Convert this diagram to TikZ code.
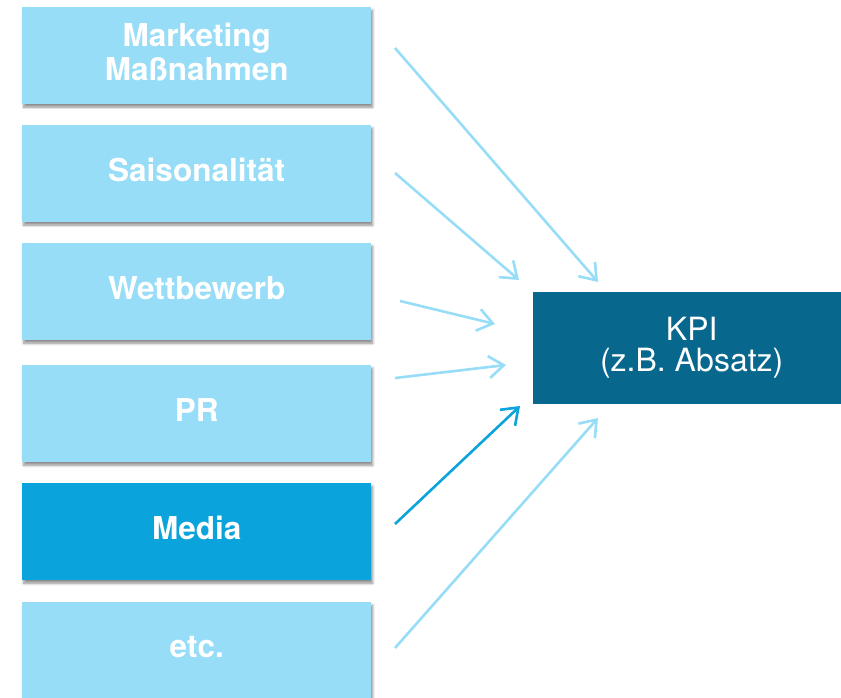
\documentclass[tikz,border=0pt]{standalone}
\usepackage{fontspec}
\setmainfont{TeX Gyre Heros}
\usetikzlibrary{arrows.meta,shadows.blur}

\definecolor{lightblue}{HTML}{97DDF7}
\definecolor{mediablue}{HTML}{0BA3DC}
\definecolor{kpiblue}{HTML}{07678D}

\tikzset{
  factor/.style={
    fill=lightblue, draw=none, anchor=north west,
    minimum width=349pt, minimum height=97pt, inner sep=0pt,
    align=center, text=white, text depth=7pt,
    font=\fontsize{31.5}{34}\selectfont\bfseries,
    blur shadow={shadow xshift=1.5pt, shadow yshift=-3pt,
                 shadow blur radius=2.5pt, shadow blur steps=6,
                 shadow opacity=45}
  },
  highlight/.style={fill=mediablue},
  target/.style={
    fill=kpiblue, draw=none, anchor=north west,
    minimum width=317pt, minimum height=112pt, inner sep=0pt,
    align=center, text=white,
    font=\fontsize{32}{31}\selectfont
  },
  influence/.style={
    draw=lightblue, line width=2.6pt,
    -{Straight Barb[length=15pt,width=22pt,line width=2.6pt]}
  },
  strong/.style={draw=mediablue}
}

\begin{document}
\begin{tikzpicture}[x=1pt,y=-1pt]
  \useasboundingbox (0,0) rectangle (841,698);

  % influencing factors
  \node[factor] (marketing) at (22,7)   {Marketing\\Maßnahmen};
  \node[factor] (saison)    at (22,125) {Saisonalität};
  \node[factor] (wettb)     at (22,243) {Wettbewerb};
  \node[factor] (pr)        at (22,365) {PR};
  \node[factor,highlight] (media) at (22,483) {Media};
  \node[factor] (etc)       at (22,602) {etc.};

  % target metric
  \node[target] (kpi) at (533,292) {KPI\\(z.B. Absatz)};

  % arrow start and end points
  \coordinate (s1) at (395,48);   \coordinate (e1) at (598,282);
  \coordinate (s2) at (395,173);  \coordinate (e2) at (519,280);
  \coordinate (s3) at (400,301);  \coordinate (e3) at (495,324);
  \coordinate (s4) at (395,378);  \coordinate (e4) at (506,365);
  \coordinate (s5) at (395,524);  \coordinate (e5) at (520,406);
  \coordinate (s6) at (395,648);  \coordinate (e6) at (598,418);

  \draw[influence] (s1) -- (e1);
  \draw[influence] (s2) -- (e2);
  \draw[influence] (s3) -- (e3);
  \draw[influence] (s4) -- (e4);
  \draw[influence,strong] (s5) -- (e5);
  \draw[influence] (s6) -- (e6);
\end{tikzpicture}
\end{document}
